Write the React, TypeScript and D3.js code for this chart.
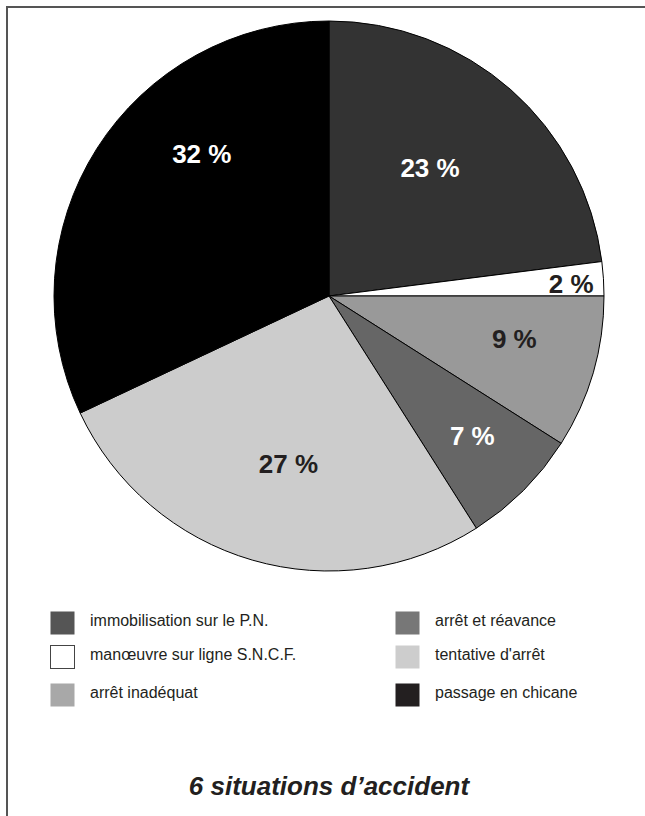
import { useRef, useEffect } from 'react'
import * as d3 from 'd3'

// slices, clockwise from 12 o'clock
const situations = [
  'immobilisation sur le P.N.',
  'manœuvre sur ligne S.N.C.F.',
  'arrêt inadéquat',
  'arrêt et réavance',
  "tentative d'arrêt",
  'passage en chicane',
]
const shares = [23, 2, 9, 7, 27, 32]

// legend order (two columns, read row by row)
const legendOrder = [0, 3, 1, 4, 2, 5]

const title = '6 situations d’accident'

const sliceFill = ['#333333', '#ffffff', '#999999', '#666666', '#cccccc', '#000000']
const swatchFill = ['#555555', '#ffffff', '#a8a8a8', '#777777', '#cdcdcd', '#231f20']
const labelFill = ['#ffffff', '#231f20', '#231f20', '#ffffff', '#231f20', '#ffffff']
// hand nudges from the arc centroid, as in the original layout
const labelNudge: [number, number][] = [
  [-19, 8],
  [61, -1],
  [11, -8],
  [15, 11],
  [10, -7],
  [26, -45],
]

const FONT = '"Liberation Sans", Arial, Helvetica, sans-serif'

export default function App() {
  const svgRef = useRef<SVGSVGElement>(null)

  useEffect(() => {
    if (!svgRef.current) return
    const svg = d3.select(svgRef.current)
    svg.selectAll('*').remove()

    const width = 645
    const height = 816
    const cx = 329
    const cy = 296
    const radius = 275

    svg.attr('width', width).attr('height', height)

    svg
      .append('rect')
      .attr('width', width)
      .attr('height', height)
      .attr('fill', '#ffffff')

    // frame (only top and left edges fall inside the crop)
    svg
      .append('rect')
      .attr('x', 7)
      .attr('y', 7)
      .attr('width', width + 40)
      .attr('height', height + 40)
      .attr('fill', 'none')
      .attr('stroke', '#555555')
      .attr('stroke-width', 2)

    const pie = d3
      .pie<number>()
      .sort(null)
      .value((d) => d)
    const arcs = pie(shares)

    const arc = d3.arc<d3.PieArcDatum<number>>().innerRadius(0).outerRadius(radius)
    const labelArc = d3
      .arc<d3.PieArcDatum<number>>()
      .innerRadius(radius * 0.66)
      .outerRadius(radius * 0.66)

    const g = svg.append('g').attr('transform', `translate(${cx},${cy})`)

    g.selectAll('path')
      .data(arcs)
      .enter()
      .append('path')
      .attr('d', arc)
      .attr('fill', (_, i) => sliceFill[i])
      .attr('stroke', '#000000')
      .attr('stroke-width', 1)
      .attr('stroke-linejoin', 'round')

    g.selectAll('text.pct')
      .data(arcs)
      .enter()
      .append('text')
      .attr('class', 'pct')
      .attr('x', (d, i) => labelArc.centroid(d)[0] + labelNudge[i][0])
      .attr('y', (d, i) => labelArc.centroid(d)[1] + labelNudge[i][1])
      .attr('dy', '0.36em')
      .attr('text-anchor', 'middle')
      .attr('fill', (_, i) => labelFill[i])
      .attr('font-family', FONT)
      .attr('font-weight', 'bold')
      .attr('font-size', '26px')
      .text((d) => `${d.data} %`)

    // Legend
    const colX = [50, 395]
    const rowY = [611, 645, 683]
    const legend = svg.append('g')
    legendOrder.forEach((idx, k) => {
      const x = colX[k % 2]
      const y = rowY[Math.floor(k / 2)]
      legend
        .append('rect')
        .attr('x', x + 0.5)
        .attr('y', y + 0.5)
        .attr('width', 24)
        .attr('height', 23)
        .attr('fill', swatchFill[idx])
        .attr('stroke', idx === 1 ? '#444444' : 'none')
        .attr('stroke-width', 1)
      legend
        .append('text')
        .attr('x', x + 40)
        .attr('y', y + 15)
        .attr('fill', '#231f20')
        .attr('font-family', FONT)
        .attr('font-size', '16px')
        .text(situations[idx])
    })

    svg
      .append('text')
      .attr('x', cx)
      .attr('y', 795)
      .attr('text-anchor', 'middle')
      .attr('fill', '#231f20')
      .attr('font-family', FONT)
      .attr('font-weight', 'bold')
      .attr('font-style', 'italic')
      .attr('font-size', '26px')
      .text(title)
  }, [])

  return (
    <div style={{ position: 'absolute', left: 0, top: 0 }}>
      <svg ref={svgRef} style={{ display: 'block' }} />
    </div>
  )
}
